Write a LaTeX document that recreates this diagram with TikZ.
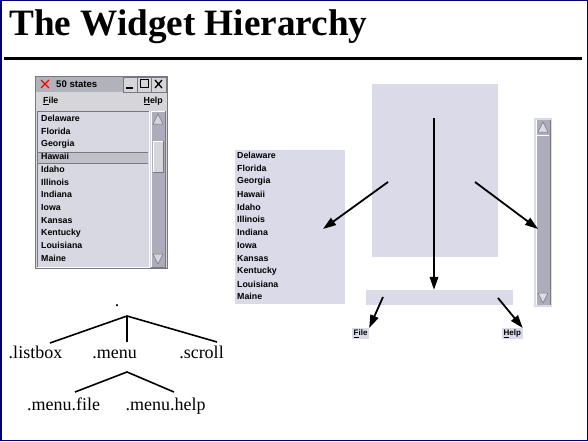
\documentclass[tikz,border=0pt]{standalone}
\usepackage{fontspec}
\setmainfont{Liberation Serif}
\newfontfamily\wfont{Liberation Sans}
\usetikzlibrary{arrows.meta}
\definecolor{navyb}{RGB}{0,0,120}
\definecolor{widg}{RGB}{218,218,232}
\definecolor{wingray}{RGB}{214,214,218}
\definecolor{titlegray}{RGB}{178,178,186}
\definecolor{hlgray}{RGB}{192,192,200}
\definecolor{trough}{RGB}{172,172,186}
\definecolor{darkedge}{RGB}{120,120,130}
\tikzset{
  wtext/.style={font=\wfont\bfseries\fontsize{8.8}{10}\selectfont, inner sep=0pt},
  btext/.style={font=\wfont\bfseries\fontsize{8}{9}\selectfont, inner sep=1.5pt, fill=widg},
  treelbl/.style={font=\fontsize{18}{20}\selectfont, inner sep=0pt, anchor=base},
  wbox/.style={fill=widg, draw=none, inner sep=0pt},
  arr/.style={line width=1.8pt, -{Triangle[length=13pt,width=8.5pt]}},
  tline/.style={line width=1.6pt},
}
\begin{document}
\begin{tikzpicture}[x=1pt,y=-1pt]
\useasboundingbox (0,0) rectangle (588,441);
\fill[white] (0,0) rectangle (588,441);
\draw[navyb, line width=1.5pt] (0.75,0.75) rectangle (587.25,440.25);

% title and rule
\node[anchor=base west, inner sep=0pt, font=\bfseries\fontsize{37.2}{40}\selectfont] (title) at (9,36) {The Widget Hierarchy};
\draw[line width=3pt] (4,58.5) -- (582,58.5);

% ---------- window screenshot ----------
\fill[wingray] (35,76) rectangle (167,268);
\draw[darkedge, line width=0.6pt] (35,76) rectangle (167,268);
\fill[titlegray] (36,77) rectangle (123,92);
\draw[red, line width=1.4pt] (41,80) -- (49,88) (49,80) -- (41,88);
\node[wtext, anchor=west, font=\wfont\bfseries\fontsize{9.6}{10}\selectfont] (wtitle) at (56,84.5) {50 states};
\foreach \a/\b in {123/137,137/151,151/166}{
  \draw[darkedge, line width=0.5pt] (\a,77) rectangle (\b,92);
}
\draw[line width=1.2pt] (126,88) -- (133,88);
\draw[line width=1pt] (140,80) rectangle (148,88);
\draw[line width=1.3pt] (155,80) -- (162,88) (162,80) -- (155,88);
\node[wtext, anchor=west] (wfile) at (43,101) {\underline{F}ile};
\node[wtext, anchor=east] (whelp) at (163,101) {\underline{H}elp};
% listbox
\fill[widg!60!wingray] (37,111) rectangle (149,267);
\draw[darkedge, line width=0.8pt] (37,267) -- (37,111) -- (149,111);
\draw[white, line width=0.8pt] (149,111) -- (149,267) -- (37,267);
\fill[hlgray] (38,152.5) rectangle (148,163);
\draw[darkedge, line width=0.4pt] (38,152.5) -- (148,152.5) (38,163) -- (148,163);
\foreach \i/\s in {0/Delaware,1/Florida,2/Georgia,3/Hawaii,4/Idaho,5/Illinois,6/Indiana,7/Iowa,8/Kansas,9/Kentucky,10/Louisiana,11/Maine}{
  \node[wtext, anchor=west] (w\i) at (41,118.3+12.73*\i) {\s};
}
% scrollbar
\fill[trough] (151,111) rectangle (165,267);
\draw[white, line width=0.6pt] (151,267) -- (151,111) -- (165,111);
\draw[darkedge, line width=0.6pt] (165,111) -- (165,267) -- (151,267);
\draw[darkedge, fill=wingray, line width=0.5pt] (158,114) -- (163,124) -- (153,124) -- cycle;
\draw[white, line width=0.8pt] (153,172) -- (153,141) -- (163,141);
\fill[wingray] (153.5,141.5) rectangle (162.5,171.5);
\draw[darkedge, line width=0.8pt] (163,141) -- (163,172) -- (153,172);
\draw[darkedge, fill=wingray, line width=0.5pt] (153,254) -- (163,254) -- (158,264) -- cycle;

% ---------- exploded widgets ----------
\node[wbox, minimum width=126pt, minimum height=173pt] (top) at (435,170.5) {};
\node[wbox, minimum width=110pt, minimum height=154pt] (lb) at (290,227) {};
\foreach \i/\s in {0/Delaware,1/Florida,2/Georgia,3/Hawaii,4/Idaho,5/Illinois,6/Indiana,7/Iowa,8/Kansas,9/Kentucky,10/Louisiana,11/Maine}{
  \node[wtext, anchor=west] (l\i) at (237,155.7+12.82*\i) {\s};
}
% scrollbar copy
\node[wbox, minimum width=18pt, minimum height=189pt] (sb) at (543,212.5) {};
\fill[trough] (536,120) rectangle (550,305);
\draw[white, line width=0.8pt] (536,305) -- (536,120);
\draw[darkedge, line width=0.6pt] (550,120) -- (550,305);
\draw[darkedge, fill=widg, line width=0.5pt] (543,122) -- (548,132) -- (538,132) -- cycle;
\draw[white, line width=1pt] (537,135) -- (549,135);
\draw[darkedge, fill=widg, line width=0.5pt] (538,293) -- (548,293) -- (543,303) -- cycle;
% menubar and buttons
\node[wbox, minimum width=147pt, minimum height=15pt] (mb) at (439.5,297.5) {};
\node[btext, anchor=north west] (bfile) at (352,328) {\underline{F}ile};
\node[btext, anchor=north west] (bhelp) at (502,328) {\underline{H}elp};

% arrows
\coordinate (s1) at (434,118);
\coordinate (s2) at (388,182);
\coordinate (t2) at (323,229);
\coordinate (s3) at (475,182);
\coordinate (t3) at (538,229);
\coordinate (s4) at (383,297);
\coordinate (s5) at (498,298);
\draw[arr] (s1) -- (s1 |- mb.north);
\draw[arr] (s2) -- (t2);
\draw[arr] (s3) -- (t3);
\draw[arr] (s4) -- (bfile.north east);
\draw[arr] (s5) -- (bhelp.north east);

% ---------- tree ----------
\node[treelbl] (root) at (117,306) {.};
\node[treelbl] (tlist) at (35.5,358) {.listbox};
\node[treelbl] (tmenu) at (114.5,358) {.menu};
\node[treelbl] (tscroll) at (201.5,358) {.scroll};
\node[treelbl] (tfile) at (63.5,410) {.menu.file};
\node[treelbl] (thelp) at (165.5,410) {.menu.help};
\coordinate (j1) at (127,316);
\coordinate (j2) at (127,372);
\coordinate (e1) at (50,343);
\coordinate (e2) at (127,342);
\coordinate (e3) at (217,342);
\coordinate (e4) at (75,392);
\coordinate (e5) at (174,392);
\draw[tline] (e1) -- (j1) -- (e3);
\draw[tline] (j1) -- (e2);
\draw[tline] (e4) -- (j2) -- (e5);
\end{tikzpicture}
\end{document}
